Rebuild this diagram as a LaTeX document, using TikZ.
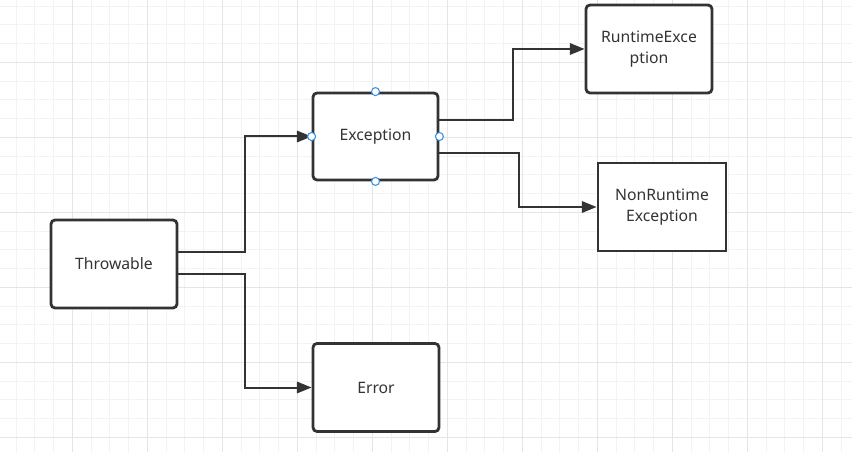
\documentclass[tikz,border=0pt]{standalone}
\usepackage{fontspec}
\setmainfont{Noto Sans}
\usetikzlibrary{arrows.meta}
\definecolor{ink}{HTML}{333333}
\definecolor{minorgrid}{HTML}{F3F3F3}
\definecolor{majorgrid}{HTML}{E5E5E5}
\definecolor{handleblue}{HTML}{3C8FE8}
\begin{document}
\begin{tikzpicture}[x=0.75pt,y=-0.75pt,
  box/.style={draw=ink,line width=2.1pt,fill=white,rounded corners=3pt,
    minimum width=94.5pt,minimum height=66pt,inner sep=0pt,
    text=ink,font=\fontsize{11.8pt}{15.8pt}\selectfont,align=center},
  sqbox/.style={box,rounded corners=0pt},
  conn/.style={draw=ink,line width=1.5pt,-{Triangle[length=11pt,width=8.5pt]}},
  handle/.style={circle,draw=handleblue,fill=white,line width=0.8pt,minimum size=6pt,inner sep=0pt}]
\useasboundingbox (0,0) rectangle (852,452);
\fill[white] (0,0) rectangle (852,452);
% grid
\foreach \k in {-3,...,42} {
  \pgfmathsetmacro{\gx}{72.3+18.75*\k}
  \pgfmathsetmacro{\gy}{62.3+18.75*\k}
  \draw[minorgrid,line width=0.75pt] (\gx,0) -- (\gx,452);
  \draw[minorgrid,line width=0.75pt] (0,\gy) -- (852,\gy);
}
\foreach \k in {-1,...,11} {
  \pgfmathsetmacro{\gx}{72.3+75*\k}
  \pgfmathsetmacro{\gy}{62.3+75*\k}
  \draw[majorgrid,line width=0.75pt] (\gx,0) -- (\gx,452);
  \draw[majorgrid,line width=0.75pt] (0,\gy) -- (852,\gy);
}
% nodes
\node[box] (T) at (114,264) {Throwable};
\node[box,minimum width=93.75pt,minimum height=65.25pt] (E) at (375.5,136.5) {Exception};
\node[box] (R) at (649,49) {RuntimeExce\\ption};
\node[sqbox,minimum width=96pt] (N) at (662,207) {NonRuntime\\Exception};
\node[box] (Er) at (376,387.5) {Error};
% connectors
\draw[conn] ([yshift=9pt]T.east) -- ++(67,0) |- (E.west);
\draw[conn] ([yshift=-7.5pt]T.east) -- ++(67,0) |- (Er.west);
\draw[conn] ([yshift=12.4pt]E.east) -- ++(74,0) |- (R.west);
\draw[conn] ([yshift=-12.4pt]E.east) -- ++(80,0) |- (N.west);
% selection handles
\node[handle] (hn) at (E.north) {};
\node[handle] (hs) at (E.south) {};
\node[handle] (hw) at (E.west) {};
\node[handle] (he) at (E.east) {};
\end{tikzpicture}
\end{document}
